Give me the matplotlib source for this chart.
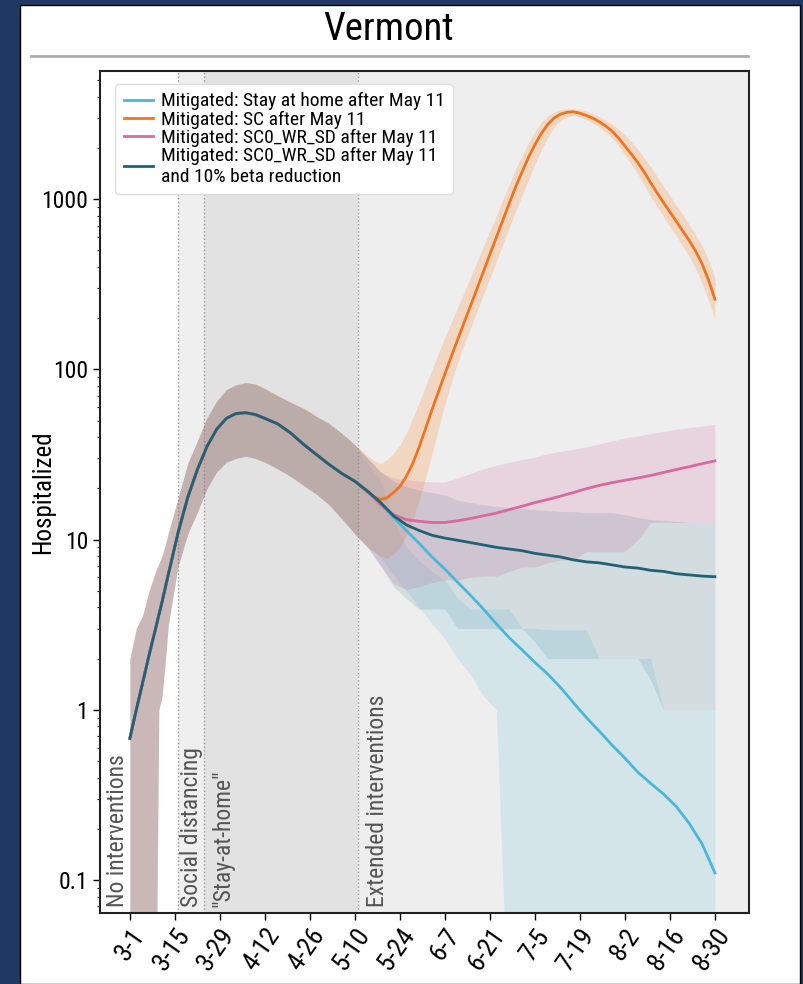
import numpy as np
import matplotlib
matplotlib.use("Agg")
import matplotlib.pyplot as plt
from matplotlib import font_manager
from matplotlib.patches import Rectangle
from matplotlib.lines import Line2D
from matplotlib.ticker import FixedLocator, FixedFormatter, NullFormatter, LogLocator

# days counted from 3-1
tick_days = [0, 14, 28, 42, 56, 70, 84, 98, 112, 126, 140, 154, 168, 182]
tick_labels = ["3-1", "3-15", "3-29", "4-12", "4-26", "5-10", "5-24",
               "6-7", "6-21", "7-5", "7-19", "8-2", "8-16", "8-30"]

# shared part (all scenarios identical before May 11)
pre_days = [0, 2, 4, 6, 8, 9, 10, 11, 12, 15, 18, 21, 24, 27, 30, 33, 36,
            39, 42, 46, 50, 54, 58, 62, 66, 70]
pre_line = [0.68, 1.0, 1.45, 2.11, 3.0, 3.6, 4.3, 5.2, 6.3, 11.0, 17.7, 25.8,
            35.3, 44.5, 51.5, 55.0, 55.6, 54.3, 51.5, 47.8, 42.3, 36.3, 31.6,
            27.6, 24.4, 22.0]
pre_hi = [2.0, 3.0, 3.6, 5.0, 6.5, 7.2, 8.0, 9.3, 11.0, 17.5, 28.0, 38.0, 52.0,
          65.0, 76.0, 81.0, 83.6, 82.0, 77.0, 70.0, 64.0, 59.0, 53.0, 48.0,
          42.0, 36.0]
pre_lo = [0.01, 0.01, 0.01, 0.01, 0.01, 1.0, 1.2, 1.9, 3.2, 7.0, 10.8, 14.5,
          20.0, 25.0, 28.5, 30.0, 30.9, 30.0, 28.5, 26.0, 23.5, 20.8, 18.5,
          16.0, 13.2, 10.8]

post_days = list(range(74, 183, 4))
sc_days = list(range(74, 183, 2))

stay_line = [19.0, 16.3, 13.5, 11.3, 9.5, 7.9, 6.7, 5.6, 4.7, 3.9, 3.2, 2.65,
             2.25, 1.9, 1.62, 1.35, 1.1, 0.9, 0.75, 0.62, 0.52, 0.43, 0.37,
             0.32, 0.27, 0.215, 0.163, 0.11]
stay_hi = [28, 22, 13, 9, 7.5, 6.5, 5.8, 4.5, 3.9, 3.9, 3.9, 3.9, 3.0, 3.0,
           2.95, 2.95, 2.95, 2.95, 2.0, 2.0, 2.0, 2.0, 2.0, 1.0, 1.0, 1.0,
           1.0, 1.0]
stay_lo = [9, 7.9, 6.2, 5.0, 4.0, 3.2, 2.6, 2.0, 1.6, 1.2, 1.0, 0.01, 0.01,
           0.01, 0.01, 0.01, 0.01, 0.01, 0.01, 0.01, 0.01, 0.01, 0.01, 0.01,
           0.01, 0.01, 0.01, 0.01]

sc_line = [19.0, 17.8, 17.2, 17.6, 18.9, 20.5, 23.5, 28.0, 35, 45, 58, 74, 94,
           119, 150, 189, 237, 298, 376, 474, 596, 750, 944, 1180, 1445, 1760,
           2090, 2430, 2750, 3000, 3160, 3240, 3260, 3200, 3100, 2990, 2850,
           2690, 2510, 2290, 2050, 1840, 1640, 1440, 1250, 1090, 955, 840, 740,
           650, 572, 495, 417, 335, 258]
sc_hi = [31, 29, 28, 29.5, 32, 36, 42, 52, 64, 80, 100, 125, 155, 190, 232,
         285, 350, 430, 530, 650, 800, 990, 1220, 1500, 1800, 2150, 2500, 2820,
         3080, 3250, 3350, 3390, 3390, 3350, 3280, 3180, 3060, 2920, 2760,
         2580, 2380, 2170, 1960, 1750, 1550, 1360, 1190, 1050, 920, 810, 710,
         620, 530, 440, 345]
sc_lo = [9, 8.5, 8, 7.8, 8.2, 9.0, 10.5, 13, 17, 23, 32, 45, 62, 84, 110, 140,
         175, 220, 275, 345, 430, 540, 680, 850, 1050, 1300, 1600, 1950, 2300,
         2650, 2900, 3050, 3100, 3050, 2930, 2800, 2650, 2480, 2290, 2060,
         1820, 1600, 1400, 1210, 1040, 900, 790, 690, 605, 530, 460, 390, 320,
         255, 197]

wr_line = [19.2, 16.0, 14.0, 13.1, 12.8, 12.6, 12.6, 12.9, 13.3, 13.8, 14.3,
           15.0, 15.7, 16.5, 17.2, 18.0, 18.9, 19.9, 20.8, 21.6, 22.3, 23.0,
           23.8, 24.8, 25.8, 26.8, 27.9, 29.0]
wr_hi = [30, 25, 23, 22.5, 22, 21.8, 21.8, 23, 24.5, 26, 27.3, 28.5, 29.5,
         30.5, 32, 33, 34, 35, 36.5, 38, 39.5, 40.5, 42, 43.2, 44.5, 45.5,
         46.5, 47.5]
wr_lo = [9, 7, 5.5, 5.1, 5.3, 5.6, 5.8, 5.8, 6.0, 6.1, 6.1, 6.5, 6.9, 6.9,
         7.3, 7.6, 7.6, 8.5, 8.5, 8.5, 8.5, 10, 12.6, 12.6, 12.6, 12.6, 12.6,
         12.6]

beta_line = [19.2, 16.5, 13.8, 12.2, 11.3, 10.6, 10.2, 9.9, 9.6, 9.3, 9.0,
             8.8, 8.6, 8.3, 8.1, 7.9, 7.6, 7.4, 7.3, 7.1, 6.9, 6.8, 6.6, 6.5,
             6.3, 6.2, 6.1, 6.05]
beta_hi = [30, 25, 22, 20.5, 19.5, 18.9, 18.3, 17, 16.5, 16, 15.7, 15.4, 15.2,
           15, 14.8, 14.6, 14.6, 14.4, 14.4, 14.4, 14, 13.5, 13.1, 13, 12.8,
           12.6, 12.6, 12.6]
beta_lo = [9, 7, 5.3, 4.5, 3.9, 3.9, 3.9, 3.0, 3.0, 3.0, 3.0, 3.0, 3.0, 2.5,
           2.0, 2.0, 2.0, 2.0, 2.0, 2.0, 2.0, 2.0, 1.5, 1.0, 1.0, 1.0, 1.0, 1.0]

labels = ["Mitigated: Stay at home after May 11",
          "Mitigated: SC after May 11",
          "Mitigated: SC0_WR_SD after May 11",
          "Mitigated: SC0_WR_SD after May 11\nand 10% beta reduction"]
line_colors = ["#4ab6d9", "#ef7420", "#d86aa0", "#1f6276"]
band_colors = ["#45b4d6", "#ff7f0e", "#d26ea1", "#1f6377"]
band_alpha = [0.15, 0.2, 0.2, 0.13]

# condensed font, first one that is installed
names = {f.name for f in font_manager.fontManager.ttflist}
cond = next(n for n in ["Roboto Condensed", "Archivo Narrow",
                        "Barlow Semi Condensed", "DejaVu Sans"] if n in names)
plt.rcParams["font.family"] = [cond, "DejaVu Sans"]

W, H = 804, 984
fig = plt.figure(figsize=(W / 100, H / 100), dpi=100, facecolor="#1f3864")
fig.patches.append(Rectangle((20 / W, 0), 780 / W, 979 / H, transform=fig.transFigure,
                             facecolor="white", edgecolor="black", lw=1, zorder=-5))
fig.text(389 / W, 1 - 29 / H, "Vermont", ha="center", va="center", fontsize=28)
fig.lines.append(Line2D([31 / W, 748 / W], [1 - 56 / H, 1 - 56 / H], transform=fig.transFigure,
                        color="#aaaaaa", lw=2))

ax = fig.add_axes([100 / W, 71 / H, 649 / W, 842 / H])
ax.set_facecolor("white")
ax.set_yscale("log")
ax.set_xlim(-9.3, 192.6)
ax.set_ylim(0.064, 5660)

# intervention periods
ax.axvspan(15, 23, color="#efefef", zorder=0, lw=0)
ax.axvspan(23, 71, color="#e2e2e2", zorder=0, lw=0)
ax.axvspan(71, 200, color="#eeeeee", zorder=0, lw=0)
for d in [15, 23, 71]:
    ax.axvline(d, color="#999999", ls=":", lw=1, zorder=1)

series = [(post_days, stay_line, stay_lo, stay_hi), (sc_days, sc_line, sc_lo, sc_hi),
          (post_days, wr_line, wr_lo, wr_hi), (post_days, beta_line, beta_lo, beta_hi)]
for i, (dd, ln, lo, hi) in enumerate(series):
    ax.fill_between(pre_days + dd, pre_lo + lo, pre_hi + hi, color=band_colors[i],
                    alpha=band_alpha[i], lw=0, zorder=2)
for i, (dd, ln, lo, hi) in enumerate(series):
    ax.plot(pre_days + dd, pre_line + ln, color=line_colors[i], lw=2,
            label=labels[i], zorder=3)

ax.xaxis.set_major_locator(FixedLocator(tick_days))
ax.xaxis.set_major_formatter(FixedFormatter(tick_labels))
plt.setp(ax.get_xticklabels(), rotation=55, ha="right", rotation_mode="anchor", fontsize=19)
ax.yaxis.set_major_locator(FixedLocator([0.1, 1, 10, 100, 1000]))
ax.yaxis.set_major_formatter(FixedFormatter(["0.1", "1", "10", "100", "1000"]))
ax.yaxis.set_minor_locator(LogLocator(base=10, subs=np.arange(2, 10)))
ax.yaxis.set_minor_formatter(NullFormatter())
ax.tick_params(axis="both", which="major", direction="out", length=5, width=1)
ax.tick_params(axis="x", which="major", pad=3)
ax.tick_params(axis="y", which="major", labelsize=17)
ax.tick_params(axis="y", which="minor", direction="out", length=2.5, width=0.8)
for s in ax.spines.values():
    s.set_linewidth(1.5)
    s.set_color("#222222")
ax.set_ylabel("Hospitalized", fontsize=18)
ax.yaxis.set_label_coords(-0.069, 0.5)

# period labels
tr = ax.get_xaxis_transform()
periods = [(-4.0, "No interventions"), (19.1, "Social distancing"),
           (29.0, "\"Stay-at-home\""), (76.9, "Extended interventions")]
for x, t in periods:
    ax.text(x, 0.007, t, transform=tr, rotation=90, ha="center", va="bottom",
            fontsize=17, color="#555555", zorder=4)

leg = ax.legend(loc="upper left", bbox_to_anchor=(0.023, 0.985), borderaxespad=0,
                prop={"size": 14}, labelspacing=0.0,
                handlelength=1.5, handletextpad=0.4, frameon=True, fancybox=True,
                borderpad=0.45)
leg.get_frame().set_edgecolor("#dddddd")
leg.get_frame().set_facecolor("white")
leg.get_frame().set_alpha(1)
leg.set_zorder(5)

fig.savefig("out.png", dpi=100, facecolor=fig.get_facecolor())
